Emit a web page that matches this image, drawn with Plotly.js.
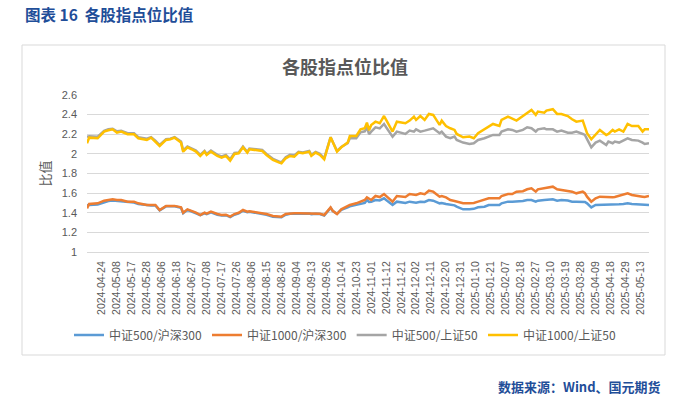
<!DOCTYPE html>
<html>
<head>
<meta charset="utf-8">
<script src="https://cdn.plot.ly/plotly-3.0.1.min.js"></script>
<style>
  html, body { margin: 0; padding: 0; background: #ffffff; }
  #chart { width: 696px; height: 396px; }
</style>
</head>
<body>
<div id="chart"></div>
<script>
// All trading days shown on the category axis
const tradingDays = (
  "2024-04-15 2024-04-16 2024-04-17 2024-04-18 2024-04-19 2024-04-22 2024-04-23 2024-04-24 2024-04-25 2024-04-26 2024-04-29 2024-04-30 " +
  "2024-05-06 2024-05-07 2024-05-08 2024-05-09 2024-05-10 2024-05-13 2024-05-14 2024-05-15 2024-05-16 2024-05-17 2024-05-20 2024-05-21 2024-05-22 2024-05-23 2024-05-24 2024-05-27 2024-05-28 2024-05-29 2024-05-30 2024-05-31 " +
  "2024-06-03 2024-06-04 2024-06-05 2024-06-06 2024-06-07 2024-06-11 2024-06-12 2024-06-13 2024-06-14 2024-06-17 2024-06-18 2024-06-19 2024-06-20 2024-06-21 2024-06-24 2024-06-25 2024-06-26 2024-06-27 2024-06-28 " +
  "2024-07-01 2024-07-02 2024-07-03 2024-07-04 2024-07-05 2024-07-08 2024-07-09 2024-07-10 2024-07-11 2024-07-12 2024-07-15 2024-07-16 2024-07-17 2024-07-18 2024-07-19 2024-07-22 2024-07-23 2024-07-24 2024-07-25 2024-07-26 2024-07-29 2024-07-30 2024-07-31 " +
  "2024-08-01 2024-08-02 2024-08-05 2024-08-06 2024-08-07 2024-08-08 2024-08-09 2024-08-12 2024-08-13 2024-08-14 2024-08-15 2024-08-16 2024-08-19 2024-08-20 2024-08-21 2024-08-22 2024-08-23 2024-08-26 2024-08-27 2024-08-28 2024-08-29 2024-08-30 " +
  "2024-09-02 2024-09-03 2024-09-04 2024-09-05 2024-09-06 2024-09-09 2024-09-10 2024-09-11 2024-09-12 2024-09-13 2024-09-18 2024-09-19 2024-09-20 2024-09-23 2024-09-24 2024-09-25 2024-09-26 2024-09-27 2024-09-30 " +
  "2024-10-08 2024-10-09 2024-10-10 2024-10-11 2024-10-14 2024-10-15 2024-10-16 2024-10-17 2024-10-18 2024-10-21 2024-10-22 2024-10-23 2024-10-24 2024-10-25 2024-10-28 2024-10-29 2024-10-30 2024-10-31 " +
  "2024-11-01 2024-11-04 2024-11-05 2024-11-06 2024-11-07 2024-11-08 2024-11-11 2024-11-12 2024-11-13 2024-11-14 2024-11-15 2024-11-18 2024-11-19 2024-11-20 2024-11-21 2024-11-22 2024-11-25 2024-11-26 2024-11-27 2024-11-28 2024-11-29 " +
  "2024-12-02 2024-12-03 2024-12-04 2024-12-05 2024-12-06 2024-12-09 2024-12-10 2024-12-11 2024-12-12 2024-12-13 2024-12-16 2024-12-17 2024-12-18 2024-12-19 2024-12-20 2024-12-23 2024-12-24 2024-12-25 2024-12-26 2024-12-27 2024-12-30 2024-12-31 " +
  "2025-01-02 2025-01-03 2025-01-06 2025-01-07 2025-01-08 2025-01-09 2025-01-10 2025-01-13 2025-01-14 2025-01-15 2025-01-16 2025-01-17 2025-01-20 2025-01-21 2025-01-22 2025-01-23 2025-01-24 2025-01-27 " +
  "2025-02-05 2025-02-06 2025-02-07 2025-02-10 2025-02-11 2025-02-12 2025-02-13 2025-02-14 2025-02-17 2025-02-18 2025-02-19 2025-02-20 2025-02-21 2025-02-24 2025-02-25 2025-02-26 2025-02-27 2025-02-28 " +
  "2025-03-03 2025-03-04 2025-03-05 2025-03-06 2025-03-07 2025-03-10 2025-03-11 2025-03-12 2025-03-13 2025-03-14 2025-03-17 2025-03-18 2025-03-19 2025-03-20 2025-03-21 2025-03-24 2025-03-25 2025-03-26 2025-03-27 2025-03-28 2025-03-31 " +
  "2025-04-01 2025-04-02 2025-04-03 2025-04-07 2025-04-08 2025-04-09 2025-04-10 2025-04-11 2025-04-14 2025-04-15 2025-04-16 2025-04-17 2025-04-18 2025-04-21 2025-04-22 2025-04-23 2025-04-24 2025-04-25 2025-04-28 2025-04-29 2025-04-30 " +
  "2025-05-06 2025-05-07 2025-05-08 2025-05-09 2025-05-12 2025-05-13 2025-05-14 2025-05-15 2025-05-16 2025-05-19"
).split(" ");

// Tick labels shown on the x axis
const tickLabels = [
  "2024-04-24","2024-05-08","2024-05-17","2024-05-28","2024-06-06","2024-06-18","2024-06-27",
  "2024-07-08","2024-07-17","2024-07-26","2024-08-06","2024-08-15","2024-08-26","2024-09-04",
  "2024-09-13","2024-09-26","2024-10-14","2024-10-23","2024-11-01","2024-11-12","2024-11-21",
  "2024-12-02","2024-12-11","2024-12-20","2024-12-31","2025-01-10","2025-01-21","2025-02-07",
  "2025-02-18","2025-02-27","2025-03-10","2025-03-19","2025-03-28","2025-04-09","2025-04-18",
  "2025-04-29","2025-05-13"
];

const dates = [
  "2024-04-15","2024-04-16","2024-04-22","2024-04-25","2024-04-29","2024-05-06","2024-05-08","2024-05-10",
  "2024-05-15","2024-05-20","2024-05-22","2024-05-28","2024-05-30","2024-06-03","2024-06-05","2024-06-11",
  "2024-06-13","2024-06-17","2024-06-20","2024-06-21","2024-06-25","2024-06-27","2024-07-01","2024-07-03",
  "2024-07-05","2024-07-08","2024-07-10","2024-07-15","2024-07-17","2024-07-19","2024-07-23","2024-07-25",
  "2024-07-29","2024-07-31","2024-08-02","2024-08-05","2024-08-09","2024-08-13","2024-08-15","2024-08-20",
  "2024-08-23","2024-08-26","2024-08-28","2024-08-30","2024-09-03","2024-09-05","2024-09-09","2024-09-12",
  "2024-09-13","2024-09-19","2024-09-23","2024-09-25","2024-09-30","2024-10-08","2024-10-10","2024-10-14",
  "2024-10-17","2024-10-18","2024-10-23","2024-10-25","2024-10-29","2024-10-30","2024-10-31","2024-11-01",
  "2024-11-05","2024-11-07","2024-11-11","2024-11-12","2024-11-15","2024-11-19","2024-11-21","2024-11-25",
  "2024-11-27","2024-11-29","2024-12-02","2024-12-04","2024-12-06","2024-12-10","2024-12-12","2024-12-17",
  "2024-12-18","2024-12-20","2024-12-24","2024-12-26","2024-12-27","2025-01-02","2025-01-07","2025-01-09",
  "2025-01-13","2025-01-16","2025-01-20","2025-01-22","2025-01-27","2025-02-05","2025-02-10","2025-02-12",
  "2025-02-14","2025-02-19","2025-02-21","2025-02-25","2025-02-27","2025-02-28","2025-03-05","2025-03-06",
  "2025-03-11","2025-03-13","2025-03-17","2025-03-20","2025-03-24","2025-03-26","2025-03-31","2025-04-01",
  "2025-04-02","2025-04-07","2025-04-09","2025-04-11","2025-04-16","2025-04-17","2025-04-21","2025-04-22",
  "2025-04-24","2025-04-28","2025-04-30","2025-05-07","2025-05-12","2025-05-14","2025-05-15","2025-05-19"
];

// 中证1000/上证50
const zz1000_sz50 = [
  2.108,2.165,2.159,2.227,2.240,2.250,2.216,2.227,
  2.200,2.200,2.159,2.142,2.165,2.125,2.081,2.142,
  2.149,2.165,2.115,2.023,2.067,2.047,2.023,1.979,
  2.023,1.989,2.023,1.979,1.961,1.979,1.931,1.999,
  2.006,2.067,2.013,2.047,2.040,2.030,1.989,1.938,
  1.911,1.904,1.955,1.979,1.972,2.013,2.006,2.023,
  1.979,2.013,1.989,1.945,2.169,2.115,2.023,2.067,
  2.115,2.182,2.182,2.250,2.261,2.318,2.240,2.295,
  2.328,2.312,2.386,2.346,2.227,2.328,2.318,2.312,
  2.339,2.380,2.346,2.386,2.346,2.407,2.397,2.295,
  2.339,2.284,2.261,2.244,2.203,2.169,2.176,2.159,
  2.210,2.250,2.284,2.305,2.284,2.346,2.380,2.363,
  2.339,2.386,2.420,2.448,2.397,2.431,2.420,2.441,
  2.455,2.407,2.407,2.386,2.353,2.328,2.339,2.284,
  2.210,2.149,2.193,2.244,2.193,2.203,2.244,2.227,
  2.250,2.227,2.305,2.284,2.284,2.227,2.250,2.250
];

// 中证500/上证50
const zz500_sz50 = [
  2.175,2.180,2.175,2.235,2.250,2.255,2.230,2.235,
  2.210,2.210,2.170,2.155,2.170,2.135,2.090,2.150,
  2.155,2.170,2.125,2.035,2.075,2.055,2.035,1.990,
  2.030,2.000,2.035,1.990,1.975,1.990,1.945,2.010,
  2.015,2.075,2.020,2.055,2.050,2.040,2.000,1.950,
  1.920,1.915,1.965,1.990,1.985,2.020,2.015,2.030,
  1.990,2.020,2.000,1.955,2.170,2.120,2.030,2.070,
  2.110,2.160,2.160,2.220,2.230,2.270,2.200,2.227,
  2.271,2.260,2.305,2.271,2.176,2.227,2.216,2.203,
  2.237,2.227,2.250,2.227,2.237,2.250,2.261,2.210,
  2.227,2.176,2.159,2.176,2.142,2.115,2.101,2.108,
  2.142,2.159,2.176,2.193,2.193,2.227,2.250,2.244,
  2.227,2.244,2.271,2.261,2.227,2.250,2.261,2.250,
  2.250,2.227,2.237,2.216,2.216,2.227,2.203,2.193,
  2.150,2.067,2.115,2.135,2.091,2.125,2.108,2.125,
  2.115,2.135,2.159,2.142,2.135,2.115,2.101,2.108
];

// 中证1000/沪深300
const zz1000_hs300 = [
  1.445,1.489,1.496,1.523,1.530,1.537,1.530,1.530,
  1.513,1.513,1.496,1.479,1.479,1.479,1.428,1.469,
  1.469,1.470,1.455,1.401,1.435,1.421,1.401,1.377,
  1.401,1.390,1.411,1.387,1.377,1.380,1.360,1.387,
  1.400,1.428,1.411,1.415,1.401,1.394,1.387,1.367,
  1.360,1.360,1.387,1.394,1.394,1.394,1.394,1.394,
  1.387,1.394,1.390,1.377,1.455,1.420,1.387,1.435,
  1.469,1.479,1.496,1.513,1.530,1.557,1.547,1.530,
  1.571,1.560,1.591,1.571,1.513,1.571,1.564,1.560,
  1.591,1.580,1.581,1.598,1.590,1.625,1.615,1.564,
  1.570,1.557,1.530,1.520,1.513,1.496,1.496,1.500,
  1.513,1.537,1.547,1.547,1.547,1.571,1.591,1.590,
  1.615,1.620,1.639,1.649,1.615,1.639,1.649,1.650,
  1.666,1.639,1.632,1.625,1.615,1.598,1.615,1.600,
  1.564,1.513,1.547,1.564,1.557,1.560,1.557,1.560,
  1.571,1.580,1.598,1.581,1.575,1.564,1.560,1.571
];

// 中证500/沪深300
const zz500_hs300 = [
  1.475,1.480,1.485,1.510,1.520,1.525,1.520,1.520,
  1.505,1.505,1.490,1.475,1.475,1.475,1.425,1.465,
  1.465,1.465,1.450,1.395,1.430,1.415,1.395,1.375,
  1.395,1.385,1.405,1.380,1.372,1.375,1.355,1.380,
  1.395,1.420,1.405,1.410,1.395,1.390,1.380,1.360,
  1.355,1.355,1.380,1.390,1.390,1.392,1.392,1.392,
  1.385,1.390,1.387,1.372,1.450,1.418,1.390,1.430,
  1.455,1.465,1.480,1.490,1.500,1.530,1.510,1.513,
  1.530,1.525,1.547,1.530,1.479,1.513,1.503,1.500,
  1.513,1.510,1.503,1.513,1.510,1.530,1.523,1.496,
  1.500,1.489,1.479,1.475,1.462,1.435,1.435,1.440,
  1.455,1.462,1.479,1.479,1.479,1.496,1.513,1.513,
  1.513,1.520,1.530,1.530,1.513,1.523,1.530,1.530,
  1.537,1.523,1.530,1.525,1.513,1.513,1.513,1.510,
  1.496,1.455,1.479,1.479,1.479,1.480,1.479,1.480,
  1.486,1.490,1.496,1.489,1.485,1.479,1.475,1.479
];

const seriesNames = ["中证500/沪深300", "中证1000/沪深300", "中证500/上证50", "中证1000/上证50"];
const seriesColors = ["#5B9BD5", "#ED7D31", "#A5A5A5", "#FFC000"];
const seriesValues = [zz500_hs300, zz1000_hs300, zz500_sz50, zz1000_sz50];

// plot-area geometry in pixels (used only to place decorations)
const W = 696, H = 396;
const PL = 87, PR = 649, PT = 95, PB = 252;
const px = x => (x - PL) / (PR - PL);
const py = y => (PB - y) / (PB - PT);

const cjk = '"Noto Sans CJK SC", "Liberation Sans", sans-serif';
const num = '"Liberation Sans", "Noto Sans CJK SC", sans-serif';

const traces = seriesNames.map((name, k) => ({
  type: "scatter",
  mode: "lines",
  name: name,
  x: dates,
  y: seriesValues[k],
  line: { color: seriesColors[k], width: 2.5 },
  hoverinfo: "skip"
}));

const layout = {
  width: W,
  height: H,
  margin: { l: PL, r: W - PR, t: PT, b: H - PB, pad: 0 },
  paper_bgcolor: "#ffffff",
  plot_bgcolor: "#ffffff",
  showlegend: true,
  title: {
    text: "<b>各股指点位比值</b>",
    font: { family: cjk, size: 18, color: "#595959" },
    xref: "container", yref: "container",
    x: 345 / W, y: 1 - 68 / H, xanchor: "center", yanchor: "middle"
  },
  xaxis: {
    type: "category",
    categoryorder: "array",
    categoryarray: tradingDays,
    range: [0, tradingDays.length - 1],
    tickmode: "array",
    tickvals: tickLabels,
    ticktext: tickLabels,
    tickangle: -90,
    ticks: "",
    ticklabelstandoff: 4,
    tickfont: { family: num, size: 10.5, color: "#595959" },
    showgrid: false,
    showline: true,
    linecolor: "#D9D9D9",
    linewidth: 1,
    zeroline: false,
    fixedrange: true
  },
  yaxis: {
    range: [1, 2.6],
    tick0: 1,
    dtick: 0.2,
    ticks: "",
    ticklabelstandoff: 9,
    tickfont: { family: num, size: 11, color: "#595959" },
    showgrid: true,
    gridcolor: "#D9D9D9",
    gridwidth: 1,
    zeroline: false,
    showline: false,
    title: { text: "比值", font: { family: cjk, size: 13, color: "#595959" }, standoff: 8 },
    fixedrange: true
  },
  legend: {
    orientation: "h",
    x: px(69), xanchor: "left",
    y: py(335), yanchor: "middle",
    font: { family: cjk, size: 12, color: "#595959" },
    bgcolor: "rgba(0,0,0,0)",
    itemclick: false,
    itemdoubleclick: false,
    tracegroupgap: 0
  },
  shapes: [{
    type: "rect", xref: "paper", yref: "paper",
    x0: px(22), x1: px(665), y0: py(355), y1: py(45),
    line: { color: "#D9D9D9", width: 1 },
    fillcolor: "rgba(0,0,0,0)",
    layer: "below"
  }],
  annotations: [
    {
      text: "<b>图表 16  各股指点位比值</b>",
      xref: "paper", yref: "paper",
      x: px(23), y: py(14), xanchor: "left", yanchor: "middle",
      showarrow: false,
      font: { family: cjk, size: 15.5, color: "#1F4E99" }
    },
    {
      text: "<b>数据来源：Wind、国元期货</b>",
      xref: "paper", yref: "paper",
      x: px(663), y: py(386), xanchor: "right", yanchor: "middle",
      showarrow: false,
      font: { family: cjk, size: 13, color: "#1F4E99" }
    }
  ]
};

Plotly.newPlot("chart", traces, layout, { staticPlot: true, displayModeBar: false });
</script>
</body>
</html>
